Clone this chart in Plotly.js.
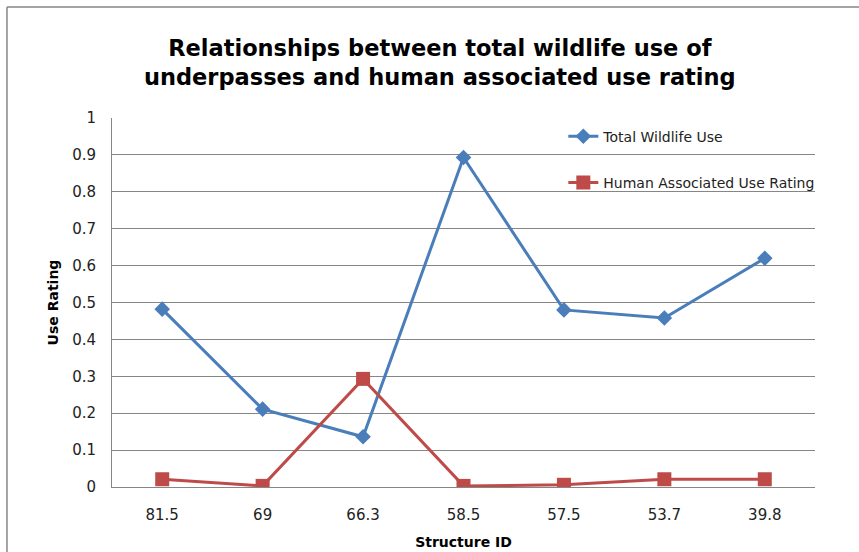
<!DOCTYPE html>
<html>
<head>
<meta charset="utf-8">
<script src="https://cdn.plot.ly/plotly-3.0.1.min.js"></script>
<style>
html,body{margin:0;padding:0;background:#fff;}
#chart{width:859px;height:552px;}
</style>
</head>
<body>
<div id="chart"></div>
<script>
var structureIds = ["81.5", "69", "66.3", "58.5", "57.5", "53.7", "39.8"];
var totalWildlifeUse = [0.482, 0.211, 0.136, 0.893, 0.480, 0.458, 0.620];
var humanUseRating = [0.021, 0.003, 0.293, 0.003, 0.006, 0.021, 0.021];
var yTickVals = [0, 0.1, 0.2, 0.3, 0.4, 0.5, 0.6, 0.7, 0.8, 0.9, 1];
var yTickText = ["0", "0.1", "0.2", "0.3", "0.4", "0.5", "0.6", "0.7", "0.8", "0.9", "1"];

var FONT = "'DejaVu Sans', sans-serif";

var traces = [
  {
    x: structureIds, y: totalWildlifeUse, name: "Total Wildlife Use",
    type: "scatter", mode: "lines+markers", legendgroup: "a",
    line: {color: "#4A7EBB", width: 3},
    marker: {symbol: "diamond", size: 12, color: "#4A7EBB"}
  },
  {
    x: structureIds, y: humanUseRating, name: "Human Associated Use Rating",
    type: "scatter", mode: "lines+markers", legendgroup: "b",
    line: {color: "#BE4B48", width: 3},
    marker: {symbol: "square", size: 14, color: "#BE4B48"}
  }
];

var layout = {
  width: 859, height: 552,
  margin: {l: 112, r: 44, t: 118, b: 65, pad: 0},
  paper_bgcolor: "#ffffff", plot_bgcolor: "#ffffff",
  font: {family: FONT, color: "#222", size: 14},
  title: {
    text: "<b>Relationships between total wildlife use of<br>underpasses and human associated use rating</b>",
    font: {family: FONT, size: 22.5, color: "#000"},
    x: 0.512, xanchor: "center", y: 0.899, yanchor: "middle"
  },
  xaxis: {
    type: "category", range: [-0.5, 6.5],
    showgrid: false, zeroline: false,
    showline: true, linecolor: "#868686", linewidth: 1,
    ticks: "", ticklabelstandoff: 14,
    tickfont: {family: FONT, size: 15, color: "#222"},
    title: {text: "<b>Structure ID</b>", font: {family: FONT, size: 14, color: "#000"}, standoff: 14},
    fixedrange: true
  },
  yaxis: {
    range: [0, 1],
    tickvals: yTickVals, ticktext: yTickText,
    showgrid: true, gridcolor: "#868686", gridwidth: 1,
    zeroline: false,
    showline: true, linecolor: "#868686", linewidth: 1,
    ticks: "", ticklabelstandoff: 12,
    tickfont: {family: FONT, size: 15, color: "#222"},
    title: {text: "<b>Use Rating</b>", font: {family: FONT, size: 14, color: "#000"}, standoff: 10},
    fixedrange: true
  },
  showlegend: true,
  legend: {
    x: 0.642, y: 0.993, xanchor: "left", yanchor: "top",
    bgcolor: "rgba(0,0,0,0)",
    traceorder: "grouped", tracegroupgap: 25,
    font: {family: FONT, size: 14, color: "#222"}
  },
  shapes: [
    {type: "line", xref: "paper", yref: "paper", x0: -0.1494, x1: 1.1, y0: 1.3008, y1: 1.3008, line: {color: "#868686", width: 1.5}},
    {type: "line", xref: "paper", yref: "paper", x0: -0.1494, x1: -0.1494, y0: 1.3008, y1: -0.25, line: {color: "#868686", width: 1.5}}
  ]
};

Plotly.newPlot("chart", traces, layout, {displayModeBar: false, staticPlot: true});
</script>
</body>
</html>
